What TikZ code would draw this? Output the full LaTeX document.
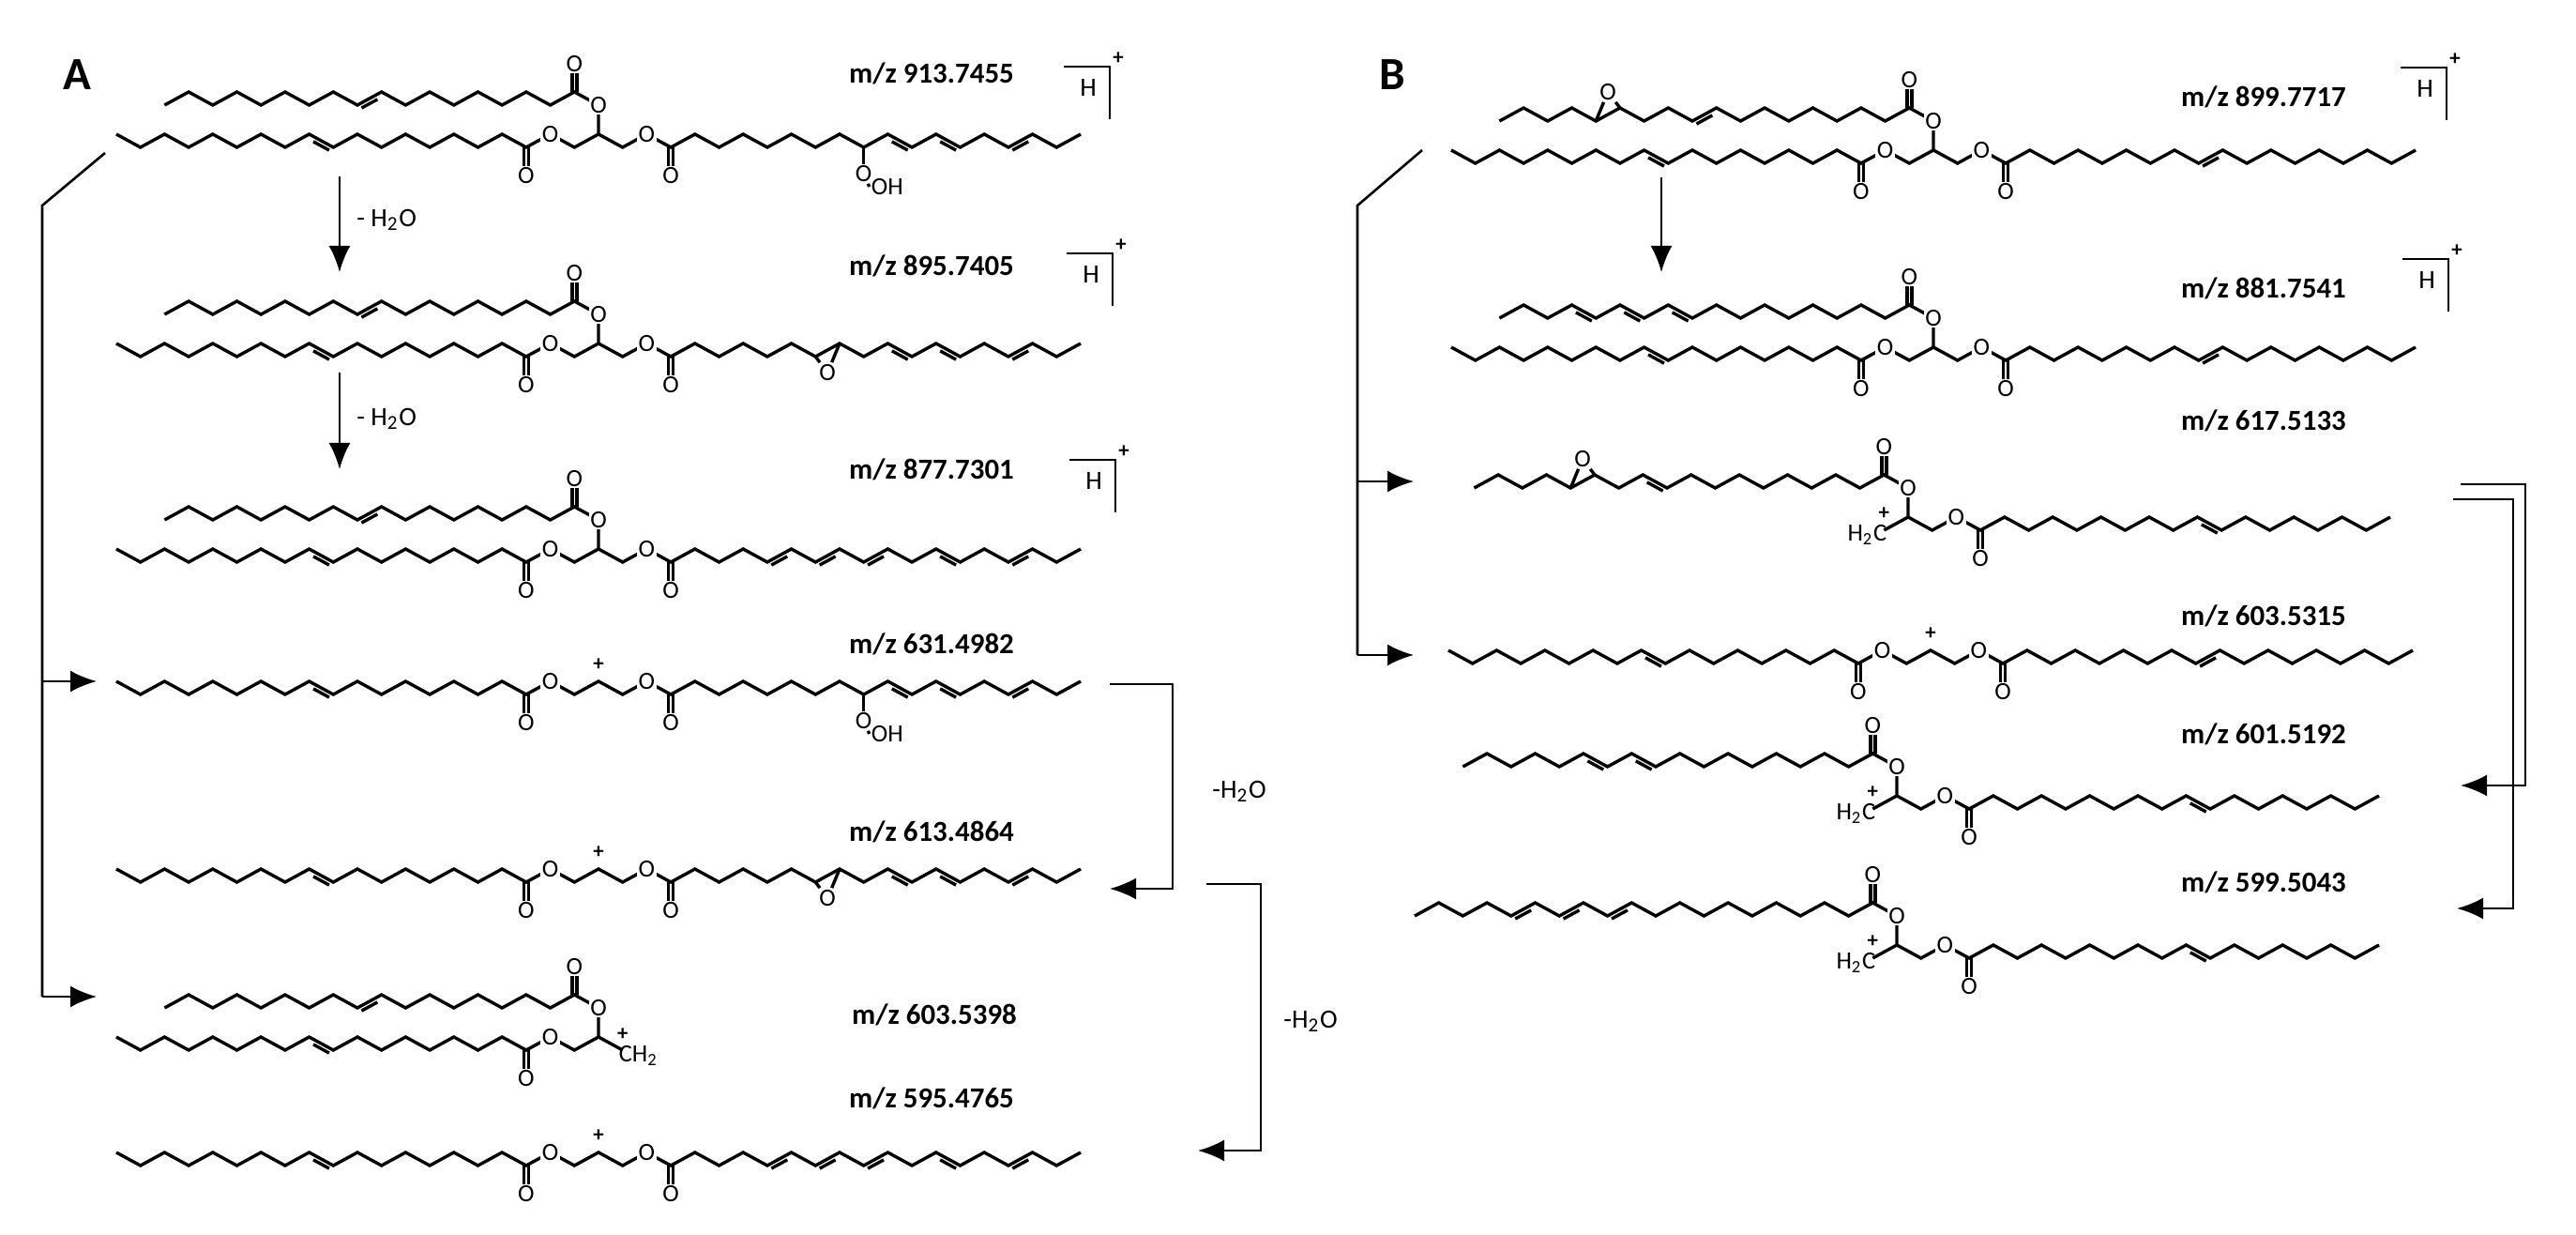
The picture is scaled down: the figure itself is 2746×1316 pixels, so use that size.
\documentclass[tikz,border=0pt]{standalone}
\usepackage{fontspec}
\setmainfont{Carlito}
\usetikzlibrary{calc,arrows.meta}
\newcommand\atomfont{\fontsize{7.5}{8}\selectfont}
\tikzset{
  bond/.style={line width=0.34mm,line join=miter},
  thinl/.style={line width=0.26mm},
  atom/.style={font=\atomfont,fill=white,inner sep=0.15mm},
  mz/.style={font=\bfseries\fontsize{8.8}{9}\selectfont},
  pl/.style={font=\bfseries\fontsize{6.5}{6.5}\selectfont,inner sep=0pt},
  arr/.style={thinl,-{Latex[length=2.8mm,width=2.3mm]}},
  lbl/.style={font=\fontsize{8}{8}\selectfont,anchor=west}
}
% zigzag chain: name, x0, y0, segments, first direction (+1 down)
\newcommand\zig[5]{\draw[bond] (#2,#3) coordinate (#10) \foreach \i in {1,...,#4}{ -- ++(25.7,{#5*14*(1-2*mod(\i+1,2))}) coordinate (#1\i)};}
\newcommand\dbnd[3]{\draw[bond,shorten <=0.5mm,shorten >=0.5mm] ([yshift=-0.55mm]#1#2) -- ([yshift=-0.55mm]#1#3);}
\newcommand\carb[3]{\draw[bond] ([xshift=-0.25mm]#1) -- ++(0,#2*24); \draw[bond] ([xshift=0.25mm]#1) -- ++(0,#2*24); \node[atom] (#3) at ($(#1)+(0,#2*30)$) {O};}
\newcommand\gline[3]{\zig{#1}{#2-514}{#3}{40}{1}\carb{#117}{1}{#1ca}\carb{#123}{1}{#1cb}\node[atom] (#1oa) at (#118) {O};\node[atom] (#1ob) at (#122) {O};}
\newcommand\uchain[6]{\zig{#1}{#2-25.7*#4}{#3-31}{#4}{#5}\draw[bond] (#1#4) -- (#2,#3);\carb{#1#6}{-1}{#1c}\node[atom] (#1o) at (#1#4) {O};}
\newcommand\epox[4]{\node[atom] (#4) at ($(#1)!0.5!(#2)+(0,#3*24)$) {O}; \draw[bond] (#1) -- (#4) -- (#2);}
\newcommand\hbr[3]{\draw[thinl] (#1,#2) -- ({#1+49},#2) -- ({#1+49},{#2+56}); \node[font=\fontsize{8}{8}\selectfont] (#3h) at ({#1+26},{#2+22}) {H}; \node[pl] (#3p) at ({#1+58},{#2-9}) {+};}
\newcommand\ooh[2]{\draw[bond] (#1) -- ++(0,24) coordinate (#2a); \node[atom] (#2o) at ($(#2a)+(0,4)$) {O}; \node[atom,anchor=west] (#2h) at ($(#2o)+(6,14)$) {OH}; \draw[bond] (#2o) -- (#2h.west);}
\newcommand\htwoc[2]{\draw[bond] (#10) -- ++(-25.7,14) coordinate (#1hc); \node[atom,anchor=east,fill=none] (#2) at ($(#1hc)+(5,5)$) {H\textsubscript{2}C}; \node[pl] (#2p) at ($(#1hc)+(0,-18)$) {+};}
\begin{document}
\begin{tikzpicture}[x=0.1mm,y=-0.1mm]
\useasboundingbox (0,0) rectangle (2746,1316);
\fill[white] (0,0) rectangle (2746,1316);
% ================= Panel A =================
\node[font=\bfseries\fontsize{14}{14}\selectfont] (labA) at (82,80) {A};
% A1
\gline{pa}{638}{143}\uchain{qa}{638}{143}{18}{-1}{17}
\dbnd{qa}{8}{9}\dbnd{pa}{8}{9}\dbnd{pa}{32}{33}\dbnd{pa}{34}{35}\dbnd{pa}{37}{38}
\ooh{pa31}{ha}
\node[mz] (mza) at (993,78) {m/z 913.7455};
\hbr{1134}{71}{hba}
% A2
\gline{pb}{638}{366}\uchain{qb}{638}{366}{18}{-1}{17}
\dbnd{qb}{8}{9}\dbnd{pb}{8}{9}\dbnd{pb}{32}{33}\dbnd{pb}{34}{35}\dbnd{pb}{37}{38}
\epox{pb29}{pb30}{1}{eb}
\node[mz] (mzb) at (993,283) {m/z 895.7405};
\hbr{1137}{270}{hbb}
% A3
\gline{pc}{638}{585}\uchain{qc}{638}{585}{18}{-1}{17}
\dbnd{qc}{8}{9}\dbnd{pc}{8}{9}\dbnd{pc}{27}{28}\dbnd{pc}{29}{30}\dbnd{pc}{31}{32}\dbnd{pc}{34}{35}\dbnd{pc}{37}{38}
\node[mz] (mzc) at (993,500) {m/z 877.7301};
\hbr{1140}{490}{hbc}
% A4
\gline{pd}{638}{726}\node[pl] (pdp) at (638,708) {+};
\dbnd{pd}{8}{9}\dbnd{pd}{32}{33}\dbnd{pd}{34}{35}\dbnd{pd}{37}{38}
\ooh{pd31}{hd}
\node[mz] (mzd) at (993,686) {m/z 631.4982};
% A5
\gline{pe}{638}{926}\node[pl] (pep) at (638,908) {+};
\dbnd{pe}{8}{9}\dbnd{pe}{32}{33}\dbnd{pe}{34}{35}\dbnd{pe}{37}{38}
\epox{pe29}{pe30}{1}{ee}
\node[mz] (mze) at (993,886) {m/z 613.4864};
% A6
\zig{pf}{638-514}{1105}{20}{1}\carb{pf17}{1}{pfca}\node[atom] (pfo) at (pf18) {O};
\uchain{qf}{638}{1105}{18}{-1}{17}
\dbnd{qf}{8}{9}\dbnd{pf}{8}{9}
\draw[bond] (pf20) -- ++(25.7,14) coordinate (pfch);
\node[atom,anchor=west,fill=none] (pfc) at ($(pfch)+(-6,6)$) {CH\textsubscript{2}};
\node[pl] (pfp) at ($(pfch)+(0,-17)$) {+};
\node[mz] (mzf) at (996,1081) {m/z 603.5398};
% A7
\gline{pg}{638}{1228}\node[pl] (pgp) at (638,1210) {+};
\dbnd{pg}{8}{9}\dbnd{pg}{27}{28}\dbnd{pg}{29}{30}\dbnd{pg}{31}{32}\dbnd{pg}{34}{35}\dbnd{pg}{37}{38}
\node[mz] (mzg) at (993,1170) {m/z 595.4765};
% A arrows
\coordinate (a1s) at (362,188); \coordinate (a1e) at (362,290);
\draw[arr] (a1s) -- (a1e);
\node[lbl] (w1) at (368,234) {- H\textsubscript{2}O};
\coordinate (a2s) at (362,397); \coordinate (a2e) at (362,500);
\draw[arr] (a2s) -- (a2e);
\node[lbl] (w2) at (368,446) {- H\textsubscript{2}O};
\coordinate (la0) at (112,163); \coordinate (la1) at (45,219); \coordinate (la2) at (45,726); \coordinate (la3) at (45,1062);
\draw[thinl] (la0) -- (la1) -- (la3);
\draw[arr] (la2) -- (103,726);
\draw[arr] (la3) -- (103,1062);
\coordinate (ra0) at (1183,729);
\draw[arr] (ra0) -- (1250,729) -- (1250,947) -- (1183,947);
\node[lbl] (w3) at (1280,843) {-H\textsubscript{2}O};
\coordinate (rb0) at (1286,942);
\draw[arr] (rb0) -- (1344,942) -- (1344,1226) -- (1277,1226);
\node[lbl] (w4) at (1356,1088) {-H\textsubscript{2}O};
% ================= Panel B =================
\node[font=\bfseries\fontsize{14}{14}\selectfont] (labB) at (1484,80) {B};
% B1
\gline{sa}{2061}{160}\uchain{ta}{2061}{160}{18}{-1}{17}
\epox{ta4}{ta5}{-1}{eta}\dbnd{ta}{8}{9}\dbnd{sa}{8}{9}\dbnd{sa}{31}{32}
\node[mz] (mzh) at (2413,103) {m/z 899.7717};
\hbr{2559}{72}{hbd}
% B2
\gline{sb}{2061}{370}\uchain{tb}{2061}{370}{18}{-1}{17}
\dbnd{tb}{3}{4}\dbnd{tb}{5}{6}\dbnd{tb}{7}{8}\dbnd{sb}{8}{9}\dbnd{sb}{31}{32}
\node[mz] (mzi) at (2413,307) {m/z 881.7541};
\hbr{2561}{276}{hbe}
% B3
\zig{sc}{2034}{551}{20}{1}\carb{sc3}{1}{scca}\node[atom] (sco) at (sc2) {O};
\htwoc{sc}{sch}
\uchain{tc}{2034}{551}{18}{-1}{17}
\epox{tc4}{tc5}{-1}{etc}\dbnd{tc}{7}{8}\dbnd{sc}{12}{13}
\node[mz] (mzj) at (2413,448) {m/z 617.5133};
% B4
\gline{sd}{2058}{693}\node[pl] (sdp) at (2058,675) {+};
\dbnd{sd}{8}{9}\dbnd{sd}{31}{32}
\node[mz] (mzk) at (2413,656) {m/z 603.5315};
% B5
\zig{se}{2022}{848}{20}{1}\carb{se3}{1}{seca}\node[atom] (seo) at (se2) {O};
\htwoc{se}{seh}
\uchain{te}{2022}{848}{18}{-1}{17}
\dbnd{te}{5}{6}\dbnd{te}{7}{8}\dbnd{se}{12}{13}
\node[mz] (mzl) at (2413,782) {m/z 601.5192};
% B6
\zig{sf}{2022}{1007}{20}{1}\carb{sf3}{1}{sfca}\node[atom] (sfo) at (sf2) {O};
\htwoc{sf}{sfh}
\uchain{tf}{2022}{1007}{20}{-1}{19}
\dbnd{tf}{4}{5}\dbnd{tf}{6}{7}\dbnd{tf}{8}{9}\dbnd{sf}{12}{13}
\node[mz] (mzm) at (2413,940) {m/z 599.5043};
% B arrows
\coordinate (b1s) at (1771,189); \coordinate (b1e) at (1771,290);
\draw[arr] (b1s) -- (b1e);
\coordinate (lb0) at (1516,160); \coordinate (lb1) at (1447,219); \coordinate (lb2) at (1447,513); \coordinate (lb3) at (1447,698);
\draw[thinl] (lb0) -- (lb1) -- (lb3);
\draw[arr] (lb2) -- (1507,513);
\draw[arr] (lb3) -- (1507,698);
\coordinate (rc0) at (2623,516);
\draw[arr] (rc0) -- (2692,516) -- (2692,837) -- (2623,837);
\coordinate (rd0) at (2615,532);
\draw[arr] (rd0) -- (2679,532) -- (2679,968) -- (2619,968);
\end{tikzpicture}
\end{document}
